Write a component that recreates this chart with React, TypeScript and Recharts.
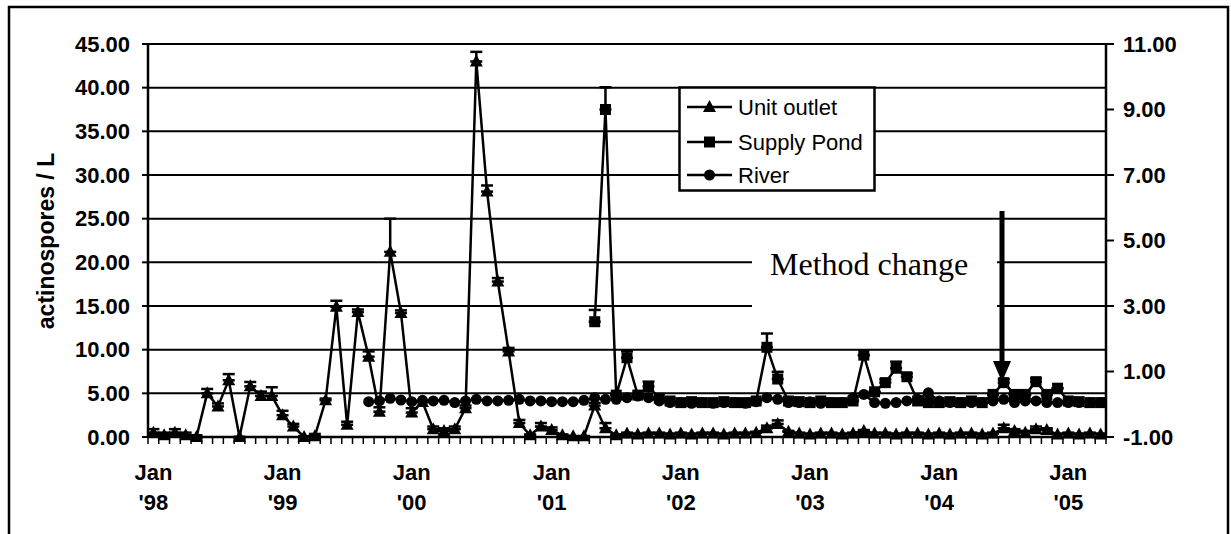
import React from "react";
import { LineChart, Line, XAxis, YAxis, CartesianGrid, ErrorBar } from "recharts";

// sample index of each "Jan" label (one extra sample in 2000)
const labelIdx = [0, 12, 24, 37, 49, 61, 73, 85];
const yearLabels = ["'98", "'99", "'00", "'01", "'02", "'03", "'04", "'05"];

// Unit outlet, left axis (actinospores / L)
const unitOutlet = [
  0.5, 0.2, 0.5, 0.2, 0.0, 5.0, 3.5, 6.5, 0.0, 5.8, 4.7, 4.7,
  2.5, 1.2, 0.0, 0.1, 4.2, 14.9, 1.4, 14.3, 9.2, 2.9, 21.2, 14.2,
  2.8, 4.0, 0.9, 0.7, 0.9, 3.3, 43.0, 28.1, 17.8, 9.8, 1.6, 0.2, 1.2,
  0.8, 0.2, 0.1, 0.1, 3.6, 1.0, 0.2, 0.4, 0.3, 0.4, 0.4, 0.3,
  0.4, 0.3, 0.4, 0.4, 0.3, 0.4, 0.4, 0.5, 1.0, 1.5, 0.6, 0.4,
  0.3, 0.4, 0.4, 0.3, 0.4, 0.7, 0.4, 0.4, 0.3, 0.4, 0.4, 0.3,
  0.4, 0.3, 0.4, 0.4, 0.3, 0.4, 1.0, 0.7, 0.5, 0.9, 0.8, 0.3,
  0.4, 0.3, 0.4, 0.3,
];
const unitErr = [
  0.4, 0.3, 0.4, 0.3, 0.2, 0.5, 0.35, 0.7, 0, 0.5, 0.5, 1.0,
  0.5, 0.3, 0.1, 0.25, 0.2, 0.7, 0.35, 0.3, 0.6, 0.5, 3.8, 0.3,
  0.5, 0, 0.3, 0.3, 0.3, 0.3, 1.1, 0.7, 0.4, 0.4, 0.35, 0.1, 0.4,
  0.3, 0.1, 0, 0, 0.3, 0.6, 0.1, 0.1, 0.1, 0.1, 0.1, 0.1,
  0.1, 0.1, 0.1, 0.1, 0.1, 0.1, 0.1, 0.1, 0.3, 0.4, 0.1, 0.1,
  0.1, 0.1, 0.1, 0.1, 0.1, 0.1, 0.1, 0.1, 0.1, 0.1, 0.1, 0.1,
  0.1, 0.1, 0.1, 0.1, 0.1, 0.1, 0.4, 0.2, 0.2, 0.3, 0.2, 0.1,
  0.1, 0.1, 0.1, 0.1,
];

// Supply Pond, right axis (starts at sample 41)
const supplyPond = [
  ...Array(41).fill(null),
  2.52, 9.0, 0.28, 1.42, 0.28, 0.54, 0.18, 0.1,
  0.05, 0.08, 0.05, 0.05, 0.08, 0.05, 0.05, 0.1, 1.74, 0.77, 0.1, 0.08,
  0.05, 0.1, 0.05, 0.05, 0.1, 1.5, 0.38, 0.66, 1.1, 0.84, 0.1, 0.05,
  0.05, 0.08, 0.05, 0.1, 0.05, 0.3, 0.66, 0.3, 0.3, 0.69, 0.3, 0.49,
  0.1, 0.08, 0.05, 0.05,
];
const supplyErr = [
  ...Array(41).fill(null),
  0.36, 0.68, 0, 0.2, 0, 0.15, 0, 0,
  0, 0, 0, 0, 0, 0, 0, 0, 0.42, 0.22, 0, 0,
  0, 0, 0, 0, 0, 0, 0, 0.1, 0.2, 0.1, 0, 0,
  0, 0, 0, 0, 0, 0, 0.1, 0, 0, 0.1, 0, 0,
  0, 0, 0, 0,
];

// River, right axis (starts at sample 20)
const river = [
  ...Array(20).fill(null),
  0.08, 0.1, 0.18, 0.13,
  0.08, 0.12, 0.1, 0.12, 0.05, 0.1, 0.15, 0.1, 0.1, 0.12, 0.15, 0.1, 0.1,
  0.08, 0.08, 0.08, 0.12, 0.2, 0.15, 0.15, 0.2, 0.25, 0.2, 0.1, 0.05,
  0.05, 0.03, 0.05, 0.03, 0.05, 0.05, 0.03, 0.08, 0.2, 0.15, 0.05, 0.05,
  0.08, 0.03, 0.05, 0.05, 0.2, 0.3, 0.05, 0.03, 0.05, 0.1, 0.15, 0.35,
  0.1, 0.05, 0.05, 0.05, 0.05, 0.1, 0.15, 0.05, 0.1, 0.1, 0.05, 0.05,
  0.05, 0.05, 0.05, 0.05,
];

const leftTicks = [0, 5, 10, 15, 20, 25, 30, 35, 40, 45];
const rightTicks = [-1, 1, 3, 5, 7, 9, 11];
const seriesNames = ["Unit outlet", "Supply Pond", "River"];

const N = unitOutlet.length;
const data = unitOutlet.map((v, i) => ({
  x: i + 0.5,
  uo: v,
  uoErr: [0, unitErr[i]],
  sp: supplyPond[i],
  spErr: supplyPond[i] == null ? null : [0, supplyErr[i]],
  rv: river[i],
}));
const boundaryTicks = Array.from({ length: N + 1 }, (_, k) => k);

const W = 1231;
const H = 534;
const PLOT_L = 148;
const PLOT_R = 1106;
const PLOT_T = 44;
const PLOT_B = 437;
const STEP = (PLOT_R - PLOT_L) / N;

const SANS = "'Liberation Sans', Arial, sans-serif";
const tickFont = { fontFamily: SANS, fontSize: 22, fontWeight: 700, fill: "#000" };

const tri = (cx: number, cy: number, key: any) => (
  <polygon key={key} points={`${cx},${cy - 7} ${cx - 6.5},${cy + 5} ${cx + 6.5},${cy + 5}`} fill="#000" />
);
const sq = (cx: number, cy: number, key: any) => (
  <rect key={key} x={cx - 5.5} y={cy - 5.5} width={11} height={11} fill="#000" />
);
const circ = (cx: number, cy: number, key: any) => <circle key={key} cx={cx} cy={cy} r={5.5} fill="#000" />;

const makeDot = (shape: typeof tri, tag: string) => (p: any) => {
  const { cx, cy, index } = p;
  if (cx == null || cy == null || p.value == null) return <g key={`${tag}${index}`} />;
  return shape(cx, cy, `${tag}${index}`);
};

function XTick(props: any) {
  const { x, y, payload } = props;
  const j = labelIdx.indexOf(payload.value);
  if (j < 0) return <g />;
  const cx = x + STEP / 2;
  return (
    <g>
      <text x={cx} y={y + 34} textAnchor="middle" style={tickFont}>
        Jan
      </text>
      <text x={cx} y={y + 64} textAnchor="middle" style={tickFont}>
        {yearLabels[j]}
      </text>
    </g>
  );
}

export default function App() {
  const markers = [tri, sq, circ];
  const rows = [107, 142, 175];
  return (
    <div style={{ position: "absolute", left: 0, top: 0, width: W, height: H, background: "#fff" }}>
      <LineChart width={W} height={H} data={data} margin={{ top: PLOT_T, right: 0, left: 0, bottom: 0 }}>
        <CartesianGrid yAxisId="left" vertical={false} stroke="#000" strokeWidth={2} />
        <XAxis
          dataKey="x"
          type="number"
          domain={[0, N]}
          ticks={boundaryTicks}
          interval={0}
          height={H - PLOT_B}
          tickSize={7}
          tickMargin={2}
          tick={<XTick />}
          axisLine={{ stroke: "#000", strokeWidth: 2.5 }}
          tickLine={{ stroke: "#000", strokeWidth: 1.5 }}
        />
        <YAxis
          yAxisId="left"
          domain={[0, 45]}
          ticks={leftTicks}
          width={PLOT_L}
          tickSize={6}
          tickMargin={12}
          tickFormatter={(v: number) => v.toFixed(2)}
          tick={tickFont}
          axisLine={{ stroke: "#000", strokeWidth: 2.5 }}
          tickLine={{ stroke: "#000", strokeWidth: 2 }}
        />
        <YAxis
          yAxisId="right"
          orientation="right"
          domain={[-1, 11]}
          ticks={rightTicks}
          width={W - PLOT_R}
          tickSize={8}
          tickMargin={9}
          tickFormatter={(v: number) => v.toFixed(2)}
          tick={{ ...tickFont, textAnchor: "start" }}
          axisLine={{ stroke: "#000", strokeWidth: 2.5 }}
          tickLine={{ stroke: "#000", strokeWidth: 2 }}
        />
        <Line
          yAxisId="left"
          dataKey="uo"
          name={seriesNames[0]}
          stroke="#000"
          strokeWidth={2.5}
          dot={makeDot(tri, "t")}
          activeDot={false}
          isAnimationActive={false}
        >
          <ErrorBar dataKey="uoErr" direction="y" width={6} stroke="#000" strokeWidth={2.5} />
        </Line>
        <Line
          yAxisId="right"
          dataKey="sp"
          name={seriesNames[1]}
          stroke="#000"
          strokeWidth={2.5}
          dot={makeDot(sq, "s")}
          activeDot={false}
          isAnimationActive={false}
        >
          <ErrorBar dataKey="spErr" direction="y" width={6} stroke="#000" strokeWidth={2.5} />
        </Line>
        <Line
          yAxisId="right"
          dataKey="rv"
          name={seriesNames[2]}
          stroke="#000"
          strokeWidth={2.5}
          dot={makeDot(circ, "c")}
          activeDot={false}
          isAnimationActive={false}
        />
      </LineChart>

      <svg width={W} height={H} style={{ position: "absolute", left: 0, top: 0, pointerEvents: "none" }}>
        {/* outer frame */}
        <rect x={9} y={7} width={1219} height={H + 10} fill="none" stroke="#000" strokeWidth={2.5} />

        <text
          transform="rotate(-90, 46, 241)"
          x={46}
          y={241}
          textAnchor="middle"
          dominantBaseline="central"
          style={{ fontFamily: SANS, fontSize: 23, fontWeight: 700 }}
        >
          actinospores / L
        </text>

        {/* legend */}
        <rect x={679.5} y={87.5} width={195} height={103} fill="#fff" stroke="#000" strokeWidth={2.5} />
        {seriesNames.map((name, i) => (
          <g key={name}>
            <line x1={687} x2={732} y1={rows[i]} y2={rows[i]} stroke="#000" strokeWidth={2.5} />
            {markers[i](709.5, rows[i], `lm${i}`)}
            <text x={738} y={rows[i]} dominantBaseline="central" style={{ fontFamily: SANS, fontSize: 22 }}>
              {name}
            </text>
          </g>
        ))}

        {/* method change note */}
        <rect x={752} y={228} width={245} height={100} fill="#fff" />
        <text x={770} y={275} style={{ fontFamily: "'Liberation Serif', 'Times New Roman', serif", fontSize: 32 }}>
          Method change
        </text>
        <line x1={1002} x2={1002} y1={211} y2={366} stroke="#000" strokeWidth={5} />
        <polygon points="993,361 1011,361 1002,382" fill="#000" />
      </svg>
    </div>
  );
}
